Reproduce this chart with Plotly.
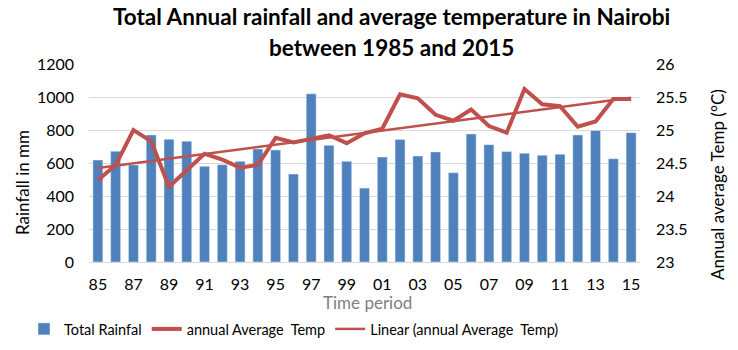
import numpy as np
import plotly.graph_objects as go

years = ["85", "86", "87", "88", "89", "90", "91", "92", "93", "94", "95", "96",
         "97", "98", "99", "00", "01", "02", "03", "04", "05", "06", "07", "08",
         "09", "10", "11", "12", "13", "14", "15"]
rainfall = [618, 671, 588, 770, 744, 732, 580, 590, 610, 685, 679, 533,
            1019, 707, 610, 448, 636, 742, 642, 667, 541, 776, 711, 669,
            659, 647, 653, 770, 797, 626, 784]
temp = [24.24, 24.47, 25.00, 24.83, 24.14, 24.39, 24.64, 24.55, 24.43, 24.47, 24.88, 24.81,
        24.87, 24.92, 24.80, 24.95, 25.02, 25.54, 25.48, 25.23, 25.14, 25.31, 25.06, 24.96,
        25.62, 25.39, 25.36, 25.05, 25.13, 25.47, 25.47]
tick_labels = years[::2]

idx = np.arange(len(temp))
slope, intercept = np.polyfit(idx, temp, 1)
trend = slope * idx + intercept

FONT = "Lato"
BLUE = "#4F81BD"
RED = "#C0504D"

fig = go.Figure()
fig.add_trace(go.Bar(x=years, y=rainfall, name="Total Rainfal", marker_color=BLUE,
                     yaxis="y"))
fig.add_trace(go.Scatter(x=years, y=temp, name="annual Average  Temp", mode="lines",
                         line=dict(color=RED, width=4), yaxis="y2"))
fig.add_trace(go.Scatter(x=years, y=trend, name="Linear (annual Average  Temp)", mode="lines",
                         line=dict(color=RED, width=2.5), yaxis="y2"))

W, H = 738, 350
L, R, T, B = 89, 98, 64, 88
pw, ph = W - L - R, H - T - B

def px(x):
    return (x - L) / pw

def py(y):
    return (H - B - y) / ph

fig.update_layout(
    width=W, height=H,
    margin=dict(l=L, r=R, t=T, b=B, autoexpand=False),
    paper_bgcolor="white", plot_bgcolor="white",
    font=dict(family=FONT, size=16, color="#000000"),
    bargap=0.44,
    showlegend=True,
    legend=dict(orientation="h", x=px(24), xanchor="left", y=py(329), yanchor="middle",
                font=dict(size=14.5, family=FONT), traceorder="normal"),
    xaxis=dict(type="category", tickmode="array", tickvals=tick_labels, ticktext=tick_labels,
               showgrid=False, showline=True, linecolor="#D9D9D9", ticks="",
               tickfont=dict(size=16), tickangle=0, ticklabelstandoff=8),
    yaxis=dict(range=[0, 1200], dtick=200, showgrid=True, gridcolor="#D9D9D9",
               zeroline=False, ticks="", tickfont=dict(size=16), showline=False,
               ticklabelstandoff=14),
    yaxis2=dict(range=[23, 26], dtick=0.5, overlaying="y", side="right", showgrid=False,
                zeroline=False, ticks="", tickfont=dict(size=16), showline=False,
                ticklabelstandoff=15),
    annotations=[
        dict(text="<b>Total Annual rainfall and average temperature in Nairobi</b>",
             xref="paper", yref="paper", x=px(391), y=py(17), xanchor="center", yanchor="middle",
             showarrow=False, font=dict(size=22.5, family=FONT)),
        dict(text="<b>between 1985 and 2015</b>",
             xref="paper", yref="paper", x=px(391), y=py(47), xanchor="center", yanchor="middle",
             showarrow=False, font=dict(size=22.5, family=FONT)),
        dict(text="Rainfall in mm", textangle=-90,
             xref="paper", yref="paper", x=px(22), y=py(183), xanchor="center", yanchor="middle",
             showarrow=False, font=dict(size=17, family=FONT)),
        dict(text="Annual average Temp (\u00b0C)", textangle=-90,
             xref="paper", yref="paper", x=px(717), y=py(185), xanchor="center", yanchor="middle",
             showarrow=False, font=dict(size=17, family=FONT)),
        dict(text="Time period",
             xref="paper", yref="paper", x=px(367), y=py(302), xanchor="center", yanchor="middle",
             showarrow=False, font=dict(size=17, family=FONT, color="#808080")),
    ],
)

fig.write_html("out.html")
